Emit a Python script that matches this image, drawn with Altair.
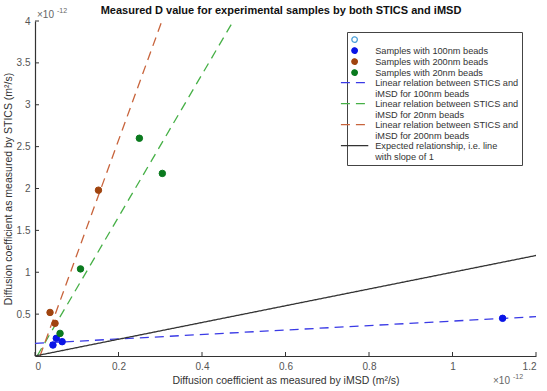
import altair as alt
import pandas as pd

# ---- data (units of 1e-12 m^2/s) ----
series = [
    " ",
    "Samples with 100nm beads",
    "Samples with 200nm beads",
    "Samples with 20nm beads",
    "Linear relation between STICS and|iMSD for 100nm beads",
    "Linear relation between STICS and|iMSD for 20nm beads",
    "Linear relation between STICS and|iMSD for 200nm beads",
    "Expected relationship, i.e. line|with slope of 1",
]
stroke_colors = ["#4a9fd8", "#0a14e6", "#a0440f", "#0a7a1e",
                 "#3a3ae6", "#46b046", "#c8643c", "#333333"]
fill_colors = ["#ffffff", "#0a14e6", "#a0440f", "#0a7a1e",
               "transparent", "transparent", "transparent", "transparent"]
shapes = ["circle", "circle", "circle", "circle",
          "M-5,0H5", "M-5,0H5", "M-5,0H5", "M-5,0H5"]
dashes = [[1, 0], [1, 0], [1, 0], [1, 0], [9, 6], [9, 6], [9, 6], [1, 0]]

b100_x = [0.043, 0.051, 0.065, 1.12]
b100_y = [0.131, 0.211, 0.171, 0.45]
b200_x = [0.036, 0.048, 0.152]
b200_y = [0.52, 0.39, 1.98]
b20_x = [0.060, 0.109, 0.25, 0.305]
b20_y = [0.27, 1.04, 2.60, 2.18]

# fitted / reference line end points
fit100_x = [0.0, 1.2]
fit100_y = [0.15, 0.47]
fit20_x = [0.005, 0.475]
fit20_y = [0.0, 4.0]
fit200_x = [0.012, 0.304]
fit200_y = [0.0, 4.0]
unit_x = [0.0, 1.2]
unit_y = [0.0, 1.2]

x_ticks = [0, 0.2, 0.4, 0.6, 0.8, 1.0, 1.2]
y_ticks = [0.5, 1, 1.5, 2, 2.5, 3, 3.5, 4]

title_text = "Measured D value for experimental samples by both STICS and iMSD"

pts = pd.concat([
    pd.DataFrame({"x": b100_x, "y": b100_y, "s": series[1]}),
    pd.DataFrame({"x": b200_x, "y": b200_y, "s": series[2]}),
    pd.DataFrame({"x": b20_x, "y": b20_y, "s": series[3]}),
])
lines = pd.concat([
    pd.DataFrame({"x": fit100_x, "y": fit100_y, "s": series[4]}),
    pd.DataFrame({"x": fit20_x, "y": fit20_y, "s": series[5]}),
    pd.DataFrame({"x": fit200_x, "y": fit200_y, "s": series[6]}),
    pd.DataFrame({"x": unit_x, "y": unit_y, "s": series[7]}),
])

FONT = "Liberation Sans"
xscale = alt.Scale(domain=[0, 1.2], nice=False)
yscale = alt.Scale(domain=[0, 4], nice=False)

xenc = alt.X("x:Q", scale=xscale,
             axis=alt.Axis(values=x_ticks, format="~g",
                           title="Diffusion coefficient as measured by iMSD (m²/s)"))
yenc = alt.Y("y:Q", scale=yscale,
             axis=alt.Axis(values=y_ticks, format="~g",
                           title="Diffusion coefficient as measured by STICS (m²/s)"))

legend = alt.Legend(
    title=None, orient="none", legendX=312, legendY=11,
    labelExpr="split(datum.label, '|')",
    labelFont=FONT, labelFontSize=9.2, labelColor="#333",
    labelLimit=300, symbolSize=30, symbolStrokeWidth=1.3,
    strokeColor="#444", fillColor="white", padding=3,
    rowPadding=0, labelOffset=16,
)

stroke_enc = alt.Stroke("s:N", scale=alt.Scale(domain=series, range=stroke_colors), legend=legend)
fill_enc = alt.Fill("s:N", scale=alt.Scale(domain=series, range=fill_colors), legend=legend)
shape_enc = alt.Shape("s:N", scale=alt.Scale(domain=series, range=shapes), legend=legend)
dash_enc = alt.StrokeDash("s:N", scale=alt.Scale(domain=series, range=dashes), legend=legend)

line_layer = alt.Chart(lines).mark_line(clip=True, strokeWidth=1.3).encode(
    x=xenc, y=yenc, stroke=stroke_enc, strokeDash=dash_enc, detail="s:N"
)
pt_layer = alt.Chart(pts).mark_point(size=42, opacity=1, strokeWidth=1).encode(
    x=xenc, y=yenc, stroke=stroke_enc, fill=fill_enc, shape=shape_enc
)

# inward tick marks
xtick_layer = alt.Chart(pd.DataFrame({"t": x_ticks})).mark_rule(color="#333", strokeWidth=1).encode(
    x=alt.X("t:Q", scale=xscale), y=alt.value(335), y2=alt.value(331))
ytick_layer = alt.Chart(pd.DataFrame({"t": y_ticks})).mark_rule(color="#333", strokeWidth=1).encode(
    y=alt.Y("t:Q", scale=yscale), x=alt.value(0), x2=alt.value(4))

blank = alt.Data(values=[{}])
title_layer = alt.Chart(blank).mark_text(text=title_text, font=FONT, fontSize=11, fontWeight="bold",
                                         color="#111", align="center", baseline="middle").encode(
    x=alt.value(246), y=alt.value(-10))
exp_top = alt.Chart(blank).mark_text(text="×10", font=FONT, fontSize=10, color="#666", align="left", baseline="middle").encode(
    x=alt.value(2), y=alt.value(-6))
exp_top2 = alt.Chart(blank).mark_text(text="-12", font=FONT, fontSize=7, color="#666", align="left", baseline="middle").encode(
    x=alt.value(22), y=alt.value(-10))
exp_bot = alt.Chart(blank).mark_text(text="×10", font=FONT, fontSize=10, color="#666", align="left", baseline="middle").encode(
    x=alt.value(458), y=alt.value(360))
exp_bot2 = alt.Chart(blank).mark_text(text="-12", font=FONT, fontSize=7, color="#666", align="left", baseline="middle").encode(
    x=alt.value(478), y=alt.value(356))

chart = alt.layer(line_layer, pt_layer, xtick_layer, ytick_layer, title_layer,
                  exp_top, exp_top2, exp_bot, exp_bot2).properties(
    width=501, height=335,
    autosize=alt.AutoSizeParams(type="none"),
    padding={"left": 35, "top": 21, "right": 11, "bottom": 35},
    background="white",
).configure_view(stroke=None).configure_axis(
    grid=False, domainColor="#333", domainWidth=1.2, ticks=False,
    labelFont=FONT, labelFontSize=10, labelColor="#555", labelPadding=5,
    titleFont=FONT, titleFontSize=10.5, titleFontWeight="normal", titleColor="#333",
).configure_axisX(titlePadding=4).configure_axisY(titlePadding=3)

chart.save("out.html", embed_options={"renderer": "svg", "actions": False})
